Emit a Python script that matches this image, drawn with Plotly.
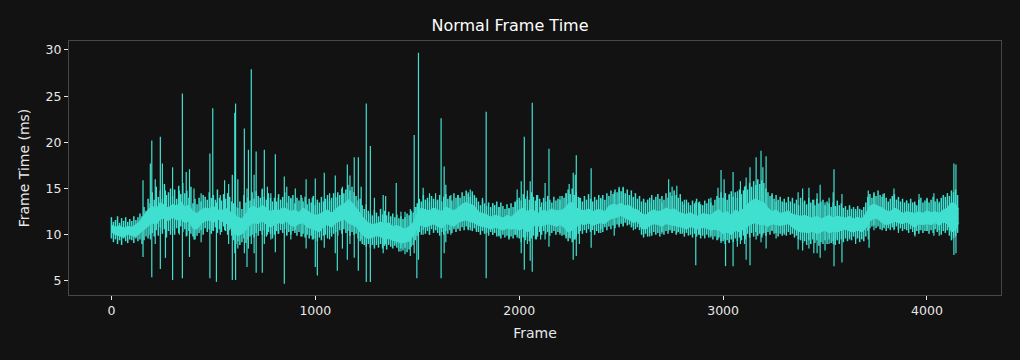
import plotly.graph_objects as go

# ---- data -------------------------------------------------------------------
# Solid core of the per-frame trace: upper / lower edge, every 20 frames
core_frames = list(range(0, 4160, 20)) + [4155]
core_hi = [
    11.1, 10.8, 11.0, 10.7, 10.9, 10.8, 11.1, 11.5, 12.1, 12.7,
    13.1, 12.8, 13.5, 13.2, 12.9, 13.3, 13.1, 13.6, 13.0, 13.2,
    12.5, 12.3, 12.7, 12.9, 12.8, 13.1, 12.7, 12.6, 12.9, 12.5,
    12.3, 11.9, 11.7, 12.3, 12.9, 13.1, 12.8, 13.2, 12.9, 12.5,
    12.7, 12.6, 12.9, 12.8, 12.5, 12.7, 12.4, 12.9, 12.6, 12.3,
    12.1, 12.2, 12.5, 12.7, 12.3, 12.8, 13.1, 13.3, 13.8, 13.5,
    12.9, 12.3, 11.7, 11.3, 11.1, 11.2, 11.4, 11.1, 11.3, 10.9,
    11.0, 10.8, 10.6, 10.9, 11.3, 12.3, 12.9, 12.7, 12.6, 12.9,
    12.7, 12.5, 13.0, 12.8, 12.6, 12.9, 13.3, 13.5, 13.3, 13.1,
    12.5, 12.3, 12.2, 11.9, 12.1, 12.0, 11.8, 12.1, 11.9, 12.3,
    12.7, 12.9, 12.5, 12.8, 12.5, 12.3, 12.7, 12.5, 12.8, 12.6,
    12.6, 12.8, 13.3, 13.5, 12.9, 12.7, 12.6, 12.8, 12.5, 12.7,
    12.7, 12.5, 13.1, 13.3, 13.2, 13.4, 13.1, 13.2, 12.8, 12.7,
    12.3, 12.1, 12.5, 12.7, 12.5, 12.6, 12.9, 12.7, 12.8, 12.5,
    12.3, 12.2, 12.4, 12.1, 12.0, 12.3, 12.2, 12.1, 12.5, 12.7,
    12.3, 12.5, 12.1, 12.7, 12.4, 12.9, 13.3, 13.7, 13.9, 13.6,
    13.5, 12.9, 12.5, 12.7, 12.3, 12.4, 12.6, 12.2, 12.1, 12.0,
    12.1, 11.9, 11.8, 12.0, 11.7, 11.9, 12.1, 11.8, 12.0, 11.9,
    11.8, 12.0, 11.7, 11.9, 11.7, 12.3, 13.1, 13.3, 13.1, 12.9,
    12.6, 12.5, 12.9, 12.7, 12.3, 12.5, 12.4, 12.3, 12.5, 12.3,
    12.6, 12.4, 12.5, 12.3, 12.7, 12.9, 13.5, 13.3, 12.8,
]
core_lo = [
    10.3, 10.0, 9.9, 9.7, 10.1, 9.9, 9.8, 10.2, 10.5, 10.9,
    11.3, 11.1, 11.7, 11.8, 11.5, 11.9, 11.6, 11.7, 11.3, 11.5,
    10.7, 10.6, 11.2, 11.5, 11.6, 11.3, 11.7, 11.5, 11.3, 10.9,
    10.2, 9.9, 10.1, 10.5, 11.1, 11.3, 11.2, 11.5, 11.1, 10.8,
    11.1, 11.3, 11.2, 11.5, 11.0, 10.9, 11.2, 11.3, 10.8, 10.7,
    10.5, 10.3, 10.9, 11.1, 10.8, 11.3, 11.5, 11.7, 11.3, 11.1,
    10.9, 10.3, 9.8, 9.6, 9.7, 9.9, 9.8, 9.5, 9.6, 9.4,
    9.3, 9.1, 9.2, 9.3, 9.9, 10.7, 11.1, 10.8, 11.0, 11.2,
    10.9, 10.7, 11.2, 11.1, 10.9, 11.3, 11.5, 11.6, 11.4, 11.3,
    11.0, 10.9, 10.8, 10.6, 10.8, 10.7, 10.5, 10.7, 10.6, 10.7,
    10.5, 10.7, 10.3, 10.6, 11.1, 10.9, 11.0, 11.2, 11.1, 10.9,
    11.1, 10.8, 10.3, 10.5, 10.9, 11.2, 11.1, 11.3, 11.0, 11.2,
    11.3, 11.2, 11.6, 11.8, 11.9, 12.1, 11.8, 11.6, 11.3, 11.5,
    10.7, 10.6, 11.0, 11.2, 11.1, 10.9, 11.2, 11.1, 11.0, 10.9,
    10.8, 10.6, 10.9, 10.7, 10.6, 10.8, 10.7, 10.5, 10.6, 10.5,
    10.1, 10.3, 10.0, 10.5, 10.3, 10.6, 10.9, 11.2, 11.3, 11.1,
    11.1, 10.9, 11.2, 11.1, 11.0, 11.1, 11.2, 10.8, 10.5, 10.3,
    10.3, 10.2, 10.4, 10.1, 10.3, 10.5, 10.2, 10.4, 10.3, 10.5,
    10.6, 10.4, 10.3, 10.5, 10.3, 10.7, 11.5, 11.8, 11.7, 11.3,
    11.1, 11.2, 11.5, 11.3, 11.2, 11.4, 11.1, 10.8, 11.2, 11.1,
    11.2, 11.1, 11.3, 11.0, 11.4, 11.2, 10.3, 10.5, 11.3,
]

# Range (max / min) of the frame times in each 10-frame bin, big spikes aside
bin_frames = list(range(0, 4160, 10))
bin_hi = [
    11.9, 11.4, 11.6, 12.0, 11.3, 11.8, 11.5, 11.9, 11.4, 11.7,
    11.5, 12.0, 11.6, 11.9, 12.3, 12.0, 13.0, 12.6, 13.9, 13.4,
    14.6, 13.8, 15.2, 14.1, 14.8, 13.9, 15.5, 14.3, 14.6, 15.0,
    14.2, 14.9, 13.9, 15.3, 14.4, 15.6, 14.5, 14.8, 14.0, 15.2,
    13.4, 13.9, 13.3, 14.0, 13.6, 14.3, 14.1, 13.8, 14.6, 14.0,
    14.3, 13.8, 14.9, 14.0, 13.7, 14.4, 13.9, 14.5, 14.1, 13.6,
    13.4, 13.0, 12.9, 13.6, 12.8, 14.3, 13.5, 14.0, 13.7, 14.6,
    13.9, 14.7, 14.2, 14.0, 14.9, 14.1, 13.8, 14.5, 14.0, 13.6,
    14.0, 13.6, 14.4, 13.8, 14.1, 14.6, 13.5, 14.2, 13.9, 14.3,
    13.4, 14.0, 13.7, 14.3, 13.6, 14.1, 13.3, 13.9, 13.5, 14.2,
    13.2, 13.8, 13.5, 14.1, 13.6, 13.9, 14.3, 13.7, 14.0, 14.5,
    14.1, 14.6, 14.3, 15.0, 14.5, 14.9, 15.4, 14.8, 15.2, 14.6,
    14.2, 13.7, 13.9, 13.2, 12.8, 13.3, 12.6, 12.3, 12.1, 12.7,
    12.4, 12.0, 12.8, 12.2, 12.6, 12.1, 12.5, 12.0, 12.3, 11.9,
    12.2, 11.8, 12.0, 11.7, 11.9, 12.3, 12.1, 12.6, 12.4, 13.0,
    13.4, 13.9, 13.6, 14.3, 13.8, 14.0, 13.6, 14.2, 13.9, 13.7,
    13.8, 14.3, 13.6, 14.1, 14.4, 13.9, 14.2, 13.7, 14.5, 14.0,
    14.3, 14.0, 14.6, 14.2, 14.8, 14.4, 14.1, 14.7, 14.3, 14.0,
    13.6, 13.2, 13.8, 13.4, 13.1, 13.5, 13.0, 13.4, 13.2, 13.6,
    13.0, 13.5, 13.1, 12.8, 13.3, 12.9, 13.4, 13.0, 13.6, 13.8,
    14.0, 13.7, 14.4, 13.9, 14.2, 13.8, 14.6, 14.1, 13.7, 14.3,
    13.9, 13.5, 14.0, 13.6, 14.2, 13.8, 13.5, 14.1, 13.7, 13.9,
    13.8, 14.2, 14.0, 14.5, 14.9, 14.4, 15.0, 14.3, 14.7, 14.1,
    14.0, 13.6, 14.2, 13.8, 14.4, 13.9, 13.6, 14.1, 13.8, 14.3,
    13.9, 14.3, 13.8, 14.5, 14.2, 14.8, 14.4, 14.9, 14.6, 15.0,
    14.7, 15.1, 14.5, 14.9, 14.3, 14.8, 14.1, 14.5, 13.9, 14.2,
    13.6, 13.9, 13.5, 13.8, 14.0, 14.3, 13.8, 14.1, 14.4, 13.9,
    14.2, 13.8, 14.5, 14.0, 14.6, 14.2, 14.8, 14.3, 14.0, 14.4,
    13.6, 13.3, 13.8, 13.5, 13.2, 13.7, 13.4, 13.9, 13.5, 13.3,
    13.2, 13.7, 13.4, 13.9, 13.5, 13.2, 13.8, 14.2, 14.0, 14.6,
    14.0, 14.5, 13.8, 14.3, 14.7, 14.1, 14.6, 14.0, 14.9, 14.4,
    14.8, 15.3, 14.9, 15.6, 15.2, 15.8, 15.4, 16.0, 15.5, 15.9,
    15.6, 15.0, 14.6, 14.2, 14.5, 13.9, 14.3, 13.8, 14.1, 13.6,
    13.9, 13.5, 14.1, 13.6, 14.0, 13.4, 13.8, 13.2, 14.0, 13.5,
    13.7, 13.3, 14.0, 13.5, 13.8, 13.2, 13.9, 13.4, 13.6, 13.8,
    13.2, 13.6, 13.4, 13.0, 13.5, 13.1, 13.7, 13.2, 13.4, 12.9,
    13.1, 12.7, 13.2, 12.8, 13.0, 12.6, 13.1, 12.8, 12.7, 13.0,
    13.5, 14.1, 14.4, 14.0, 14.6, 14.2, 14.8, 14.3, 14.1, 14.5,
    14.0, 13.6, 13.9, 14.2, 14.4, 13.8, 14.1, 13.6, 13.9, 13.5,
    13.7, 13.4, 13.9, 13.5, 13.6, 13.2, 13.8, 14.0, 13.5, 13.7,
    13.9, 13.5, 13.8, 14.1, 13.6, 13.9, 13.4, 14.0, 14.3, 14.1,
    14.5, 14.2, 14.8, 14.6, 14.9, 14.3,
]
bin_lo = [
    9.6, 9.2, 9.5, 9.0, 9.4, 8.9, 9.6, 9.3, 9.1, 9.5,
    9.4, 9.1, 9.6, 9.3, 9.5, 9.0, 9.4, 9.8, 9.6, 10.0,
    10.2, 9.8, 10.5, 9.9, 10.8, 10.1, 10.6, 9.7, 10.4, 10.0,
    10.5, 10.0, 10.7, 10.2, 10.9, 10.3, 10.6, 9.9, 10.4, 10.1,
    9.8, 9.5, 9.9, 10.2, 10.5, 10.0, 10.7, 10.3, 10.6, 10.1,
    10.4, 10.8, 10.2, 10.6, 10.3, 10.9, 10.4, 10.0, 10.5, 9.9,
    9.4, 9.0, 9.3, 8.9, 9.2, 9.6, 9.1, 9.5, 9.8, 10.0,
    9.7, 10.2, 9.9, 10.4, 10.0, 10.5, 9.8, 10.3, 10.1, 9.6,
    10.0, 10.4, 10.1, 10.5, 10.2, 10.6, 9.9, 10.3, 10.0, 10.4,
    10.2, 9.9, 10.3, 9.8, 10.1, 9.7, 10.0, 9.6, 9.9, 9.5,
    9.6, 9.3, 9.7, 9.4, 9.9, 10.0, 9.6, 10.2, 9.8, 10.1,
    10.3, 9.9, 10.5, 10.1, 10.6, 10.2, 10.4, 9.9, 10.3, 10.0,
    10.1, 9.6, 9.3, 9.0, 8.9, 8.7, 9.0, 8.6, 8.9, 8.5,
    8.9, 8.6, 9.0, 8.5, 8.8, 8.4, 8.9, 8.7, 8.5, 8.8,
    8.6, 8.2, 8.5, 8.3, 8.6, 8.1, 8.4, 8.7, 8.9, 9.4,
    9.9, 10.3, 10.0, 10.5, 10.1, 10.4, 10.0, 10.6, 10.2, 10.5,
    10.2, 9.9, 10.3, 10.0, 10.4, 10.1, 10.5, 10.2, 10.6, 10.3,
    10.7, 10.4, 10.8, 10.5, 10.9, 10.6, 10.8, 10.4, 10.7, 10.5,
    10.3, 10.0, 10.4, 10.1, 10.2, 9.9, 10.3, 10.0, 10.2, 9.8,
    9.9, 9.6, 10.0, 9.7, 9.9, 9.5, 9.8, 9.6, 10.0, 9.7,
    9.6, 9.2, 9.7, 9.4, 9.8, 9.3, 9.6, 9.9, 9.5, 9.8,
    10.3, 10.0, 10.4, 10.1, 10.3, 9.9, 10.2, 10.4, 10.0, 10.3,
    10.2, 9.9, 10.0, 9.6, 9.3, 9.6, 9.2, 9.5, 9.8, 10.1,
    10.4, 10.1, 10.5, 10.2, 10.6, 10.3, 10.5, 10.0, 10.4, 10.2,
    10.6, 10.3, 10.8, 10.5, 10.9, 10.6, 11.0, 10.7, 11.1, 10.8,
    11.2, 10.9, 11.3, 11.0, 11.1, 10.8, 10.9, 10.6, 10.8, 10.5,
    10.0, 9.7, 10.1, 9.8, 10.2, 9.9, 10.3, 10.0, 10.2, 9.8,
    10.3, 10.0, 10.4, 10.1, 10.5, 10.2, 10.4, 10.0, 10.3, 10.1,
    10.1, 9.8, 10.2, 9.9, 10.0, 9.7, 10.1, 9.8, 10.0, 9.6,
    9.9, 9.6, 10.0, 9.7, 9.9, 9.5, 9.8, 9.4, 9.7, 9.3,
    9.3, 9.0, 9.4, 9.1, 9.5, 9.2, 9.6, 9.3, 9.7, 9.4,
    9.9, 9.5, 10.1, 9.7, 10.2, 9.8, 10.3, 9.9, 10.1, 9.7,
    10.2, 9.9, 10.3, 10.0, 10.4, 10.1, 10.2, 9.8, 10.1, 9.9,
    10.2, 9.9, 10.3, 10.0, 10.1, 9.7, 9.9, 9.5, 9.4, 9.1,
    9.3, 8.9, 9.4, 9.0, 9.5, 9.1, 9.4, 8.8, 9.2, 9.0,
    9.4, 9.0, 9.5, 9.1, 9.3, 8.9, 9.4, 9.0, 9.5, 9.2,
    9.6, 9.3, 9.7, 9.4, 9.8, 9.5, 9.6, 9.2, 9.5, 9.3,
    9.8, 10.4, 10.7, 10.9, 11.0, 10.7, 10.9, 10.6, 10.5, 10.7,
    10.4, 10.7, 10.5, 10.8, 10.6, 10.9, 10.5, 10.7, 10.4, 10.6,
    10.5, 10.2, 10.6, 10.3, 10.0, 10.4, 10.1, 10.5, 10.2, 10.4,
    10.4, 10.1, 10.5, 10.2, 10.6, 10.3, 10.5, 10.0, 10.4, 10.2,
    10.5, 9.9, 9.4, 9.6, 9.8, 10.2,
]

# Single-frame excursions far outside the band: frame, highest and lowest value (ms)
spike_frame = [
    155, 191, 198, 215, 240, 250, 265, 300, 333, 348, 367, 383, 405, 440,
    483, 497, 515, 534, 555, 575, 593, 605, 609, 620, 652, 665, 672, 686,
    700, 710, 740, 750, 765, 782, 804, 818, 848, 860, 880, 902, 935, 955,
    985, 1000, 1010, 1044, 1070, 1098, 1108, 1133, 1157, 1170, 1191, 1211,
    1225, 1250, 1270, 1290, 1333, 1345, 1397, 1420, 1440, 1466, 1485, 1498,
    1506, 1529, 1560, 1590, 1617, 1632, 1640, 1665, 1700, 1750, 1760, 1790,
    1820, 1838, 1870, 1901, 1950, 1980, 1990, 2010, 2025, 2040, 2054, 2064,
    2085, 2105, 2127, 2146, 2200, 2230, 2245, 2265, 2275, 2280, 2295, 2353,
    2400, 2466, 2490, 2510, 2560, 2610, 2640, 2700, 2733, 2750, 2773, 2810,
    2866, 2885, 2940, 2975, 2990, 3005, 3012, 3030, 3049, 3070, 3085, 3105,
    3113, 3132, 3162, 3186, 3195, 3211, 3240, 3260, 3300, 3368, 3390, 3421,
    3445, 3461, 3476, 3500, 3520, 3540, 3544, 3560, 3583, 3620, 3650, 3712,
    3716, 3740, 3784, 3838, 3860, 3900, 3941, 3961, 4000, 4034, 4060, 4100,
    4132, 4142,
]
spike_hi = [
    15.9, 17.7, 20.2, 16.0, 20.6, 17.7, 14.8, 17.3, 14.8, 25.3, 16.8, 17.1, 15.0, 14.5,
    18.8, 23.7, 13.5, 14.3, 15.9, 15.5, 16.5, 23.2, 24.2, 16.0, 21.5, 15.0, 19.2, 27.9,
    16.5, 19.0, 15.0, 19.2, 15.2, 14.5, 18.7, 14.0, 16.3, 15.2, 14.0, 15.0, 14.0, 16.0,
    14.0, 16.1, 13.5, 16.7, 14.5, 16.4, 14.0, 15.2, 17.6, 16.4, 18.4, 18.4,
    15.2, 24.2, 19.6, 14.0, 14.3, 14.2, 15.6, 12.5, 12.5, 12.8, 20.8, 13.0,
    29.7, 15.1, 14.5, 14.5, 22.6, 17.4, 15.4, 14.3, 14.3, 14.6, 14.9, 14.0,
    14.0, 23.3, 13.4, 13.0, 12.8, 13.5, 14.9, 15.8, 20.6, 14.8, 15.8, 24.3,
    14.3, 13.0, 15.6, 19.3, 14.2, 14.5, 15.5, 16.7, 16.5, 18.6, 14.0, 17.2,
    14.0, 14.6, 15.2, 15.2, 14.0, 13.8, 13.5, 13.5, 16.0, 15.2, 15.3, 13.8,
    13.6, 13.6, 14.0, 15.1, 17.0, 16.0, 14.5, 14.4, 16.8, 14.7, 15.8, 15.2,
    16.2, 17.3, 18.4, 19.1, 17.3, 18.5, 14.3, 13.6, 13.5, 14.6, 15.0, 15.1,
    13.8, 14.5, 15.4, 13.5, 14.0, 14.6, 17.1, 13.0, 14.4, 13.0, 12.8, 14.8,
    13.0, 14.4, 14.4, 15.0, 13.9, 13.7, 13.3, 14.4, 14.0, 14.5, 13.6, 13.8,
    17.7, 17.6,
]
spike_lo = [
    7.6, 9.5, 5.4, 9.0, 6.3, 10.5, 7.5, 5.1, 10.0, 5.3, 9.8, 7.6, 9.5, 9.2,
    5.3, 10.5, 4.9, 10.0, 10.5, 9.0, 5.1, 8.0, 5.1, 8.5, 8.0, 6.5, 8.5, 9.0,
    8.0, 5.9, 5.9, 9.0, 10.0, 9.5, 8.1, 10.1, 4.7, 10.0, 9.5, 10.5, 9.8, 8.5,
    9.5, 6.5, 5.6, 8.6, 9.5, 8.0, 6.1, 8.5, 7.3, 9.0, 7.5, 6.1,
    9.5, 4.9, 4.9, 8.8, 8.0, 9.0, 9.0, 8.2, 7.9, 7.7, 8.0, 5.3,
    7.3, 10.0, 10.0, 10.5, 5.3, 8.0, 9.2, 10.0, 10.6, 10.5, 10.5, 10.3,
    10.6, 5.3, 10.0, 9.8, 9.6, 10.0, 10.0, 8.0, 6.2, 9.0, 7.2, 6.0,
    9.5, 9.5, 9.5, 8.7, 10.0, 9.8, 9.7, 7.3, 9.5, 7.7, 9.0, 8.6,
    10.2, 9.9, 11.0, 11.0, 10.5, 10.0, 9.8, 10.1, 10.5, 10.2, 10.2, 10.3,
    6.7, 10.0, 9.7, 9.5, 9.1, 9.5, 6.6, 9.2, 6.6, 8.7, 9.0, 9.0,
    7.3, 6.7, 9.5, 9.2, 10.0, 8.5, 10.5, 9.6, 10.0, 8.4, 8.3, 8.5,
    8.0, 8.0, 7.5, 8.3, 9.0, 9.0, 6.6, 9.6, 7.0, 9.5, 9.0, 9.5,
    8.6, 10.5, 10.8, 10.5, 10.2, 10.5, 9.8, 10.5, 10.4, 9.9, 9.9, 10.5,
    7.8, 8.0,
]

x_ticks = [0, 1000, 2000, 3000, 4000]
y_ticks = [5, 10, 15, 20, 25, 30]

# ---- styling -----------------------------------------------------------------
BG = "#121212"
LINE = "#40E0D0"
TXT = "#e8e8e8"
SPINE = "#474747"


def strokes(xs, his, los):
    """Vertical strokes from lo to hi at each x (None breaks the line)."""
    px, py = [], []
    for f, hi, lo in zip(xs, his, los):
        px += [f, f, None]
        py += [lo, hi, None]
    return px, py


bx, by = strokes(bin_frames, bin_hi, bin_lo)
sx, sy = strokes(spike_frame, spike_hi, spike_lo)

fig = go.Figure()
fig.add_trace(go.Scatter(
    x=core_frames, y=core_lo, mode="lines",
    line=dict(color=LINE, width=1), hoverinfo="skip",
))
fig.add_trace(go.Scatter(
    x=core_frames, y=core_hi, mode="lines",
    line=dict(color=LINE, width=1), fill="tonexty", fillcolor=LINE,
    hoverinfo="skip",
))
fig.add_trace(go.Scatter(
    x=bx, y=by, mode="lines",
    line=dict(color=LINE, width=1.5), hoverinfo="skip",
))
fig.add_trace(go.Scatter(
    x=sx, y=sy, mode="lines",
    line=dict(color=LINE, width=1.2), hoverinfo="skip",
))

fig.update_layout(
    width=1020,
    height=360,
    paper_bgcolor=BG,
    plot_bgcolor=BG,
    margin=dict(l=69, r=19, t=41, b=65),
    showlegend=False,
    font=dict(family="DejaVu Sans", color=TXT, size=12.5),
    title=dict(
        text="Normal Frame Time",
        x=0.5,
        xanchor="center",
        y=1 - 25 / 360,
        yanchor="middle",
        yref="container",
        font=dict(size=16, color="#ffffff"),
    ),
)

axis_common = dict(
    showgrid=False,
    zeroline=False,
    showline=True,
    mirror=True,
    linecolor=SPINE,
    linewidth=1.2,
    ticks="outside",
    ticklen=4,
    tickwidth=1,
    tickcolor=TXT,
    tickfont=dict(size=12.5, color=TXT),
)

fig.update_xaxes(
    range=[-208, 4363],
    tickvals=x_ticks,
    ticktext=[str(v) for v in x_ticks],
    title=dict(text="Frame", font=dict(size=14, color=TXT), standoff=11),
    **axis_common,
)

fig.update_yaxes(
    range=[3.48, 30.97],
    tickvals=y_ticks,
    ticktext=[str(v) for v in y_ticks],
    title=dict(text="Frame Time (ms)", font=dict(size=14, color=TXT), standoff=12),
    **axis_common,
)

fig.write_html("out.html")
